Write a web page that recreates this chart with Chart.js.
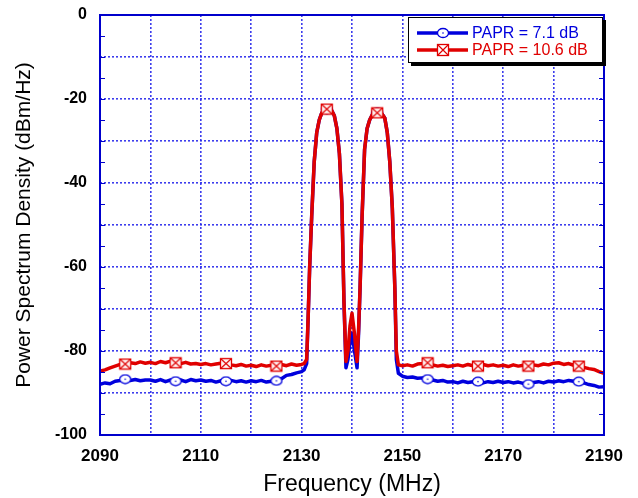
<!DOCTYPE html>
<html>
<head>
<meta charset="utf-8">
<script src="https://cdn.jsdelivr.net/npm/chart.js@4/dist/chart.umd.min.js"></script>
<style>
  html, body { margin: 0; padding: 0; background: #fff; }
  #wrap { position: relative; width: 638px; height: 498px; }
  #legend { position: absolute; left: 408px; top: 17px; width: 193px; height: 44px;
    border: 1px solid #000; background: #fff; box-shadow: 3px 3px 0 #000;
    font-family: "Liberation Sans", Arial, sans-serif; font-size: 16px; }
  .row { position: absolute; left: 0; height: 18px; width: 100%; }
  .row svg { position: absolute; left: 8px; top: 0; }
  .row span { position: absolute; left: 63px; top: 0; line-height: 18px; white-space: nowrap; }
</style>
</head>
<body>
<div id="wrap">
  <canvas id="c" width="638" height="498"></canvas>
  <div id="legend">
    <div class="row" style="top:6px">
      <svg width="52" height="18"><line x1="0" y1="9" x2="51" y2="9" stroke="#0000dd" stroke-width="3.5"/><ellipse cx="26" cy="9" rx="5.5" ry="4.5" fill="#fff" stroke="#0000dd" stroke-width="1.3"/><circle cx="26" cy="9" r="0.8" fill="#0000dd"/></svg>
      <span style="color:#0000dd">PAPR = 7.1 dB</span>
    </div>
    <div class="row" style="top:23px">
      <svg width="52" height="18"><line x1="0" y1="9" x2="51" y2="9" stroke="#e00000" stroke-width="3.5"/><rect x="20.5" y="3.5" width="11" height="11" fill="#fff" stroke="#e00000" stroke-width="1.3"/><path d="M20.5 3.5 L31.5 14.5 M31.5 3.5 L20.5 14.5" stroke="#e00000" stroke-width="1.2"/></svg>
      <span style="color:#e00000">PAPR = 10.6 dB</span>
    </div>
  </div>
</div>
<script>
// ---- Data ----
const freqs = [
  2090,2091,2092,2093,2094,2095,2096,2097,2098,2099,
  2100,2101,2102,2103,2104,2105,2106,2107,2108,2109,
  2110,2111,2112,2113,2114,2115,2116,2117,2118,2119,
  2120,2121,2122,2123,2124,2125,2126,2127,2128,2129,
  2130,2130.5,2131,2131.3,2131.6,2132,2132.5,2133,2133.5,2134,
  2135,2136,2136.5,2137,2137.5,2138,2138.4,2138.8,2139.2,2139.6,
  2140,2140.5,2141,2141.3,2141.6,2142,2142.5,2143,2143.5,2144,
  2145,2146,2146.5,2147,2147.5,2148,2148.5,2148.8,2149.2,2150,
  2151,2152,2153,2154,2155,2156,2157,2158,2159,2160,
  2161,2162,2163,2164,2165,2166,2167,2168,2169,2170,
  2171,2172,2173,2174,2175,2176,2177,2178,2179,2180,
  2181,2182,2183,2184,2185,2186,2187,2188,2189,2190
];
const blueVals = [
  -87.9,-87.6,-87.8,-87.2,-87.0,-86.7,-87.0,-86.8,-87.1,-86.9,
  -86.9,-87.2,-86.8,-87.3,-86.9,-87.2,-86.9,-87.3,-86.8,-87.1,
  -86.9,-87.2,-87.0,-87.4,-87.1,-87.2,-87.0,-87.3,-87.1,-87.4,
  -87.1,-87.3,-87.0,-87.4,-87.2,-87.1,-86.6,-85.8,-85.6,-85.2,
  -84.9,-84.5,-83.0,-72,-60,-48,-35,-28,-25,-23.3,
  -22.4,-22.8,-24,-27,-33,-45,-68,-84.0,-82.0,-78.0,
  -75.8,-80.0,-84.0,-76,-65,-48,-32,-27,-25,-23.8,
  -23.3,-23.6,-24.5,-28,-35,-46,-65,-82,-85.3,-86.0,
  -86.3,-86.2,-86.5,-86.4,-86.7,-86.9,-87.2,-87.0,-87.4,-87.3,
  -87.6,-87.2,-87.5,-87.3,-87.3,-87.6,-87.3,-87.5,-87.2,-87.5,
  -87.3,-87.6,-87.4,-87.7,-87.9,-87.5,-87.3,-87.6,-87.2,-87.4,
  -87.1,-87.3,-87.0,-87.2,-87.3,-87.6,-88.0,-88.2,-88.6,-88.5
];
const redVals = [
  -84.8,-84.5,-84.0,-83.6,-83.2,-83.1,-82.8,-83.0,-82.6,-82.9,
  -82.7,-83.0,-82.5,-82.8,-82.4,-82.8,-83.0,-82.7,-83.1,-83.0,
  -83.2,-83.0,-83.3,-83.1,-82.9,-83.0,-83.3,-83.5,-83.2,-83.6,
  -83.4,-83.7,-83.3,-83.6,-83.4,-83.6,-83.2,-83.5,-83.1,-83.4,
  -83.2,-83.0,-82.0,-72,-60,-48,-35,-28,-25,-23.3,
  -22.4,-22.8,-24,-27,-33,-45,-68,-82.5,-80.0,-74.0,
  -71.0,-76.0,-82.5,-75,-65,-48,-32,-27,-25,-23.8,
  -23.3,-23.6,-24.5,-28,-35,-46,-65,-80,-83.3,-83.5,
  -83.3,-83.6,-83.1,-83.0,-82.8,-83.3,-83.6,-83.4,-83.7,-83.5,
  -83.3,-83.6,-83.2,-83.5,-83.6,-83.2,-83.5,-83.3,-83.6,-83.4,
  -83.7,-83.3,-83.6,-83.4,-83.6,-83.3,-83.5,-83.1,-83.3,-82.9,
  -82.8,-83.2,-83.0,-83.4,-83.6,-83.9,-84.2,-84.4,-84.9,-85.3
];
const markerFreqs = [2095,2105,2115,2125,2135,2145,2155,2165,2175,2185];
const xTickLabels = [2090,2110,2130,2150,2170,2190];
const yTickLabels = [0,-20,-40,-60,-80,-100];
const seriesNames = ['PAPR = 7.1 dB','PAPR = 10.6 dB'];

// ---- Marker images ----
function squareX() {
  const c = document.createElement('canvas'); c.width = 14; c.height = 13;
  const g = c.getContext('2d');
  g.fillStyle = '#fff4f4'; g.fillRect(1.5,1.5,11,10);
  g.strokeStyle = '#e00000'; g.lineWidth = 1.3;
  g.strokeRect(1.5,1.5,11,10);
  g.beginPath(); g.moveTo(1.5,1.5); g.lineTo(12.5,11.5); g.moveTo(12.5,1.5); g.lineTo(1.5,11.5);
  g.lineWidth = 1.1; g.stroke();
  return c;
}
function ovalDot() {
  const c = document.createElement('canvas'); c.width = 14; c.height = 11;
  const g = c.getContext('2d');
  g.beginPath(); g.ellipse(7,5.5,5.5,4.3,0,0,Math.PI*2);
  g.fillStyle = '#fff'; g.fill(); g.strokeStyle = '#0000dd'; g.lineWidth = 1.3; g.stroke();
  g.beginPath(); g.arc(7,5.5,0.8,0,Math.PI*2); g.fillStyle = '#0000dd'; g.fill();
  return c;
}
const redMarker = squareX();
const blueMarker = ovalDot();
const isMarker = ctx => ctx.raw && markerFreqs.includes(ctx.raw.x);

const toPts = vals => freqs.map((f,i) => ({x:f, y:vals[i]}));

const gridColor = 'rgba(40,40,235,0.9)';
const frameColor = '#0000cc';

const framePlugin = {
  id: 'frame',
  afterDatasetsDraw(chart) {
    const {ctx, chartArea: a, scales: {y}} = chart;
    ctx.save();
    ctx.strokeStyle = frameColor; ctx.lineWidth = 2;
    ctx.strokeRect(a.left, a.top, a.right - a.left, a.bottom - a.top);
    ctx.lineWidth = 1.2;
    ctx.beginPath();
    for (let v = -95; v < 0; v += 5) {
      const py = Math.round(y.getPixelForValue(v)) + 0.5;
      ctx.moveTo(a.left, py); ctx.lineTo(a.left + 5, py);
      ctx.moveTo(a.right, py); ctx.lineTo(a.right - 5, py);
    }
    ctx.stroke();
    ctx.restore();
  }
};

new Chart(document.getElementById('c'), {
  type: 'line',
  data: {
    datasets: [
      { label: seriesNames[1], data: toPts(redVals), borderColor: '#e00000', borderWidth: 3.5,
        borderJoinStyle: 'round', borderCapStyle: 'round',
        pointStyle: redMarker, pointRadius: c => isMarker(c) ? 6 : 0, tension: 0, order: 0 },
      { label: seriesNames[0], data: toPts(blueVals), borderColor: '#0000dd', borderWidth: 3.5,
        borderJoinStyle: 'round', borderCapStyle: 'round',
        pointStyle: blueMarker, pointRadius: c => isMarker(c) ? 6 : 0, tension: 0, order: 1 }
    ]
  },
  options: {
    responsive: false, animation: false, devicePixelRatio: 1,
    layout: { padding: { top: 15, right: 34, left: 0, bottom: 0 } },
    plugins: { legend: { display: false }, tooltip: { enabled: false } },
    events: [],
    scales: {
      x: {
        type: 'linear', min: 2090, max: 2190,
        afterFit: s => { s.height = 63; s.paddingLeft = 0; s.paddingRight = 0; },
        grid: { color: gridColor, lineWidth: 1.6, drawTicks: false },
        border: { display: false, dash: [2, 2] },
        ticks: { stepSize: 10, padding: 11, color: '#000', maxRotation: 0, autoSkip: false,
          font: { family: 'Liberation Sans', size: 17, weight: 'bold' },
          callback: v => xTickLabels.includes(v) ? String(v) : '' },
        title: { display: true, text: 'Frequency (MHz)', color: '#000',
          font: { family: 'Liberation Sans', size: 23 }, padding: { top: 0, bottom: 0 } }
      },
      y: {
        min: -100, max: 0,
        afterFit: s => { s.width = 100; s.paddingTop = 0; s.paddingBottom = 0; },
        grid: { color: gridColor, lineWidth: 1.6, drawTicks: false },
        border: { display: false, dash: [2, 2] },
        ticks: { stepSize: 10, padding: 13, color: '#000', autoSkip: false,
          font: { family: 'Liberation Sans', size: 16, weight: 'bold' },
          callback: v => yTickLabels.includes(v) ? String(v) : '' },
        title: { display: true, text: 'Power Spectrum Density (dBm/Hz)', color: '#000',
          font: { family: 'Liberation Sans', size: 21 }, padding: { top: 12, bottom: 0 } }
      }
    }
  },
  plugins: [framePlugin]
});
</script>
</body>
</html>
